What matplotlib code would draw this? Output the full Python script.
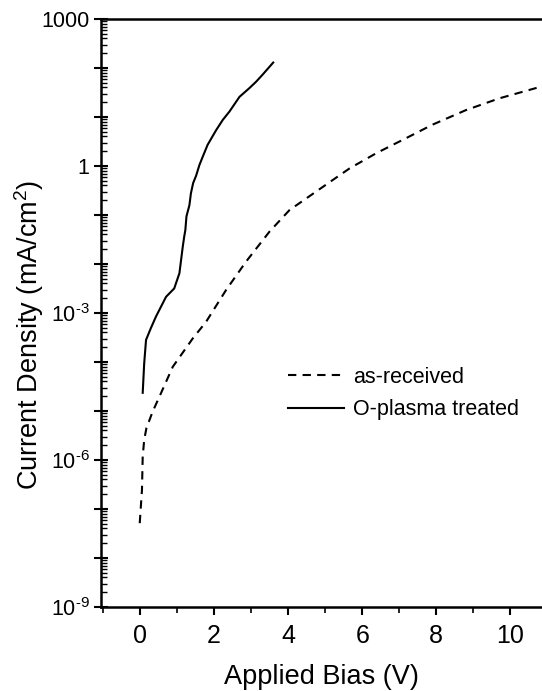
import matplotlib
matplotlib.use('Agg')
import matplotlib.pyplot as plt
import numpy as np

# as-received sample (dashed)
bias_asrec = [0.0, 0.06, 0.08, 0.12, 0.18, 0.35, 0.53, 0.89, 1.43, 1.79, 2.33, 2.87, 3.5,
              4.04, 4.44, 5.20, 5.66, 6.38, 7.27, 7.89, 8.80, 9.70, 10.69, 10.85]
logj_asrec = [-7.29, -6.61, -5.93, -5.59, -5.35, -5.01, -4.71, -4.10, -3.52, -3.18, -2.53, -1.95,
              -1.34, -0.90, -0.69, -0.29, -0.05, 0.26, 0.60, 0.84, 1.14, 1.38, 1.59, 1.62]

# O-plasma treated sample (solid)
bias_oplasma = [0.08, 0.12, 0.17, 0.30, 0.44, 0.71, 0.93, 1.07, 1.16, 1.20, 1.23, 1.26, 1.34,
                1.38, 1.44, 1.52, 1.61, 1.70, 1.83, 2.06, 2.24, 2.42, 2.69, 2.96, 3.14, 3.31, 3.60]
logj_oplasma = [-4.63, -4.03, -3.55, -3.31, -3.07, -2.67, -2.50, -2.19, -1.65, -1.44, -1.31,
                -1.03, -0.80, -0.56, -0.35, -0.20, 0.02, 0.19, 0.43, 0.73, 0.94, 1.11, 1.41,
                1.59, 1.72, 1.86, 2.11]

ytick_vals = [1e-9, 1e-8, 1e-7, 1e-6, 1e-5, 1e-4, 1e-3, 1e-2, 1e-1, 1, 10, 100, 1000]
ytick_labels = ['$10^{\\text{-}9}$', '', '', '$10^{\\text{-}6}$', '', '', '$10^{\\text{-}3}$',
                '', '', '1', '', '', '1000']
xtick_vals = [0, 2, 4, 6, 8, 10]

plt.rcParams['font.family'] = ['Liberation Sans', 'DejaVu Sans']
plt.rcParams['mathtext.fontset'] = 'custom'
plt.rcParams['mathtext.rm'] = 'Liberation Sans'
plt.rcParams['mathtext.it'] = 'Liberation Sans'

fig = plt.figure(figsize=(5.42, 6.91), dpi=100)
ax = fig.add_axes([0.186, 0.1216, 0.814, 0.851])

ax.plot(bias_asrec, 10**np.array(logj_asrec), c='k', lw=1.5, ls=(0, (4, 3)), label='as-received')
ax.plot(bias_oplasma, 10**np.array(logj_oplasma), c='k', lw=1.5, label='O-plasma treated')

ax.set_yscale('log')
ax.set_ylim(1e-9, 1000)
ax.set_xlim(-1.05, 10.85)
ax.set_yticks(ytick_vals)
ax.set_yticklabels(ytick_labels, fontsize=15.5)
ax.yaxis.set_minor_locator(matplotlib.ticker.LogLocator(base=10, subs=np.arange(2, 10), numticks=50))
ax.yaxis.set_minor_formatter(matplotlib.ticker.NullFormatter())
ax.set_xticks(xtick_vals)
ax.set_xticks([-1, 1, 3, 5, 7, 9], minor=True)
ax.tick_params(axis='x', which='major', direction='out', length=6, width=1.5, labelsize=18, pad=6)
ax.tick_params(axis='x', which='minor', direction='out', length=4, width=1.2)
ax.tick_params(axis='y', which='major', direction='inout', length=10, width=1.5, pad=3)
ax.tick_params(axis='y', which='minor', direction='in', length=4, width=1)

ax.spines['right'].set_visible(False)
for s in ['left', 'top', 'bottom']:
    ax.spines[s].set_linewidth(1.8)

ax.set_xlabel('Applied Bias (V)', fontsize=19.5, labelpad=12)
ax.set_ylabel('Current Density (mA/cm$^2$)', fontsize=19.5)
ax.yaxis.set_label_coords(-0.125, 0.463)

ax.legend(loc='center left', bbox_to_anchor=(0.40, 0.363), frameon=False, fontsize=15.5,
          handlelength=2.6, handletextpad=0.4, labelspacing=0.55, borderpad=0)

fig.savefig('out.png', dpi=100)
